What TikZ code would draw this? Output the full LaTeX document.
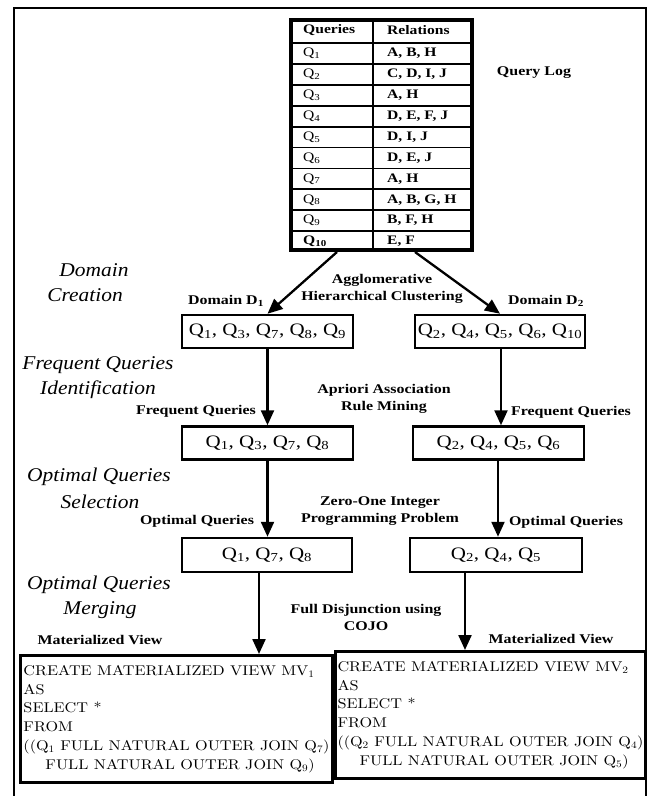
\documentclass[tikz,border=0pt]{standalone}
\usepackage{fontspec}
\setmainfont{Liberation Serif}[FakeStretch=1.2]
\newfontfamily\italfont{Liberation Serif}[FakeStretch=1.1]
\newfontfamily\lmfont{lmroman10-regular.otf}[FakeStretch=1.15]
\usetikzlibrary{arrows.meta,calc}
\begin{document}
\begin{tikzpicture}[x=1pt,y=-1pt,
  lab/.style={font=\fontsize{13.3}{17}\selectfont\bfseries, inner sep=0pt, align=center},
  ital/.style={font=\italfont\fontsize{19.5}{22}\selectfont\itshape, inner sep=0pt},
  qbox/.style={draw, line width=2.5pt, minimum height=33pt, font=\fontsize{17.5}{20}\selectfont, inner sep=0pt},
  cell/.style={font=\fontsize{13}{15}\selectfont, inner sep=0pt, anchor=west},
  arr/.style={line width=2.3pt, -{Triangle[length=15pt,width=13pt]}},
  mv/.style={draw, line width=3pt, inner xsep=2pt, inner ysep=0pt, anchor=north west, align=left,
             minimum height=127pt, font=\lmfont\fontsize{14.1}{18.8}\selectfont}
]
\useasboundingbox (0,0) rectangle (648,796);
% outer frame
\draw[line width=2pt] (14,796) -- (14,8) -- (646,8) -- (646,796);

% query log table
\node[draw, line width=4pt, minimum width=181pt, minimum height=230pt, inner sep=0pt] (tab) at (381.5,135) {};
\draw[line width=1.8pt] (373,18) -- (373,252);
\foreach \i in {0,...,9} {
  \draw[line width=1.8pt] (289,{43+20.9*\i}) -- (474,{43+20.9*\i});
}
\node[cell, font=\fontsize{13}{15}\selectfont\bfseries] (hq) at (303,30.5) {Queries};
\node[cell, font=\fontsize{13}{15}\selectfont\bfseries] (hr) at (387,30.5) {Relations};
\foreach \n/\r [count=\i] in {1/{A, B, H},2/{C, D, I, J},3/{A, H},4/{D, E, F, J},5/{D, I, J},6/{D, E, J},7/{A, H},8/{A, B, G, H},9/{B, F, H}} {
  \node[cell] (q\i) at (303,{43+20.9*(\i-0.5)}) {Q\textsubscript{\n}};
  \node[cell, font=\fontsize{13}{15}\selectfont\bfseries] (r\i) at (387,{43+20.9*(\i-0.5)}) {\r};
}
\node[cell, font=\fontsize{13}{15}\selectfont\bfseries] (q10) at (303,241.5) {Q\textsubscript{10}};
\node[cell, font=\fontsize{13}{15}\selectfont\bfseries] (r10) at (387,241.5) {E, F};
\node[lab] (qlog) at (534,73) {Query Log};

% stage labels (italic)
\node[ital] (s1a) at (94,270) {Domain};
\node[ital] (s1b) at (85,295) {Creation};
\node[ital] (s2a) at (98,365) {Frequent Queries};
\node[ital] (s2b) at (98,390) {Identification};
\node[ital] (s3a) at (99,477) {Optimal Queries};
\node[ital] (s3b) at (100,502) {Selection};
\node[ital] (s4a) at (99,585) {Optimal Queries};
\node[ital] (s4b) at (100,610) {Merging};

% method labels
\node[lab] (m1) at (382,289) {Agglomerative\\Hierarchical Clustering};
\node[lab] (m2) at (384,399) {Apriori Association\\Rule Mining};
\node[lab] (m3) at (380,511) {Zero-One Integer\\Programming Problem};
\node[lab] (m4) at (366,617) {Full Disjunction using\\COJO};

% boxes
\node[qbox, minimum width=171pt] (b1L) at (267.5,331.5) {Q\textsubscript{1}, Q\textsubscript{3}, Q\textsubscript{7}, Q\textsubscript{8}, Q\textsubscript{9}};
\node[qbox, minimum width=170pt] (b1R) at (500,331.5) {Q\textsubscript{2}, Q\textsubscript{4}, Q\textsubscript{5}, Q\textsubscript{6}, Q\textsubscript{10}};
\node[qbox, minimum width=171pt] (b2L) at (267.5,443) {Q\textsubscript{1}, Q\textsubscript{3}, Q\textsubscript{7}, Q\textsubscript{8}};
\node[qbox, minimum width=171pt] (b2R) at (498.5,443) {Q\textsubscript{2}, Q\textsubscript{4}, Q\textsubscript{5}, Q\textsubscript{6}};
\node[qbox, minimum width=170pt, minimum height=34pt] (b3L) at (267,555) {Q\textsubscript{1}, Q\textsubscript{7}, Q\textsubscript{8}};
\node[qbox, minimum width=172pt, minimum height=34pt] (b3R) at (496,555) {Q\textsubscript{2}, Q\textsubscript{4}, Q\textsubscript{5}};

% arrow labels
\node[lab] (d1) at (226,301) {Domain D\textsubscript{1}};
\node[lab] (d2) at (546,301) {Domain D\textsubscript{2}};
\node[lab] (f1) at (196,411) {Frequent Queries};
\node[lab] (f2) at (571,412) {Frequent Queries};
\node[lab] (o1) at (197,521) {Optimal Queries};
\node[lab] (o2) at (566,522) {Optimal Queries};
\node[lab] (v1) at (100,640) {Materialized View};
\node[lab] (v2) at (551,639) {Materialized View};

% materialized view boxes
\node[mv, minimum width=312pt] (mvL) at (19,654) {CREATE MATERIALIZED VIEW MV\textsubscript{1}\\AS\\SELECT *\\FROM\\((Q\textsubscript{1} FULL NATURAL OUTER JOIN Q\textsubscript{7})\\\hspace*{22pt}FULL NATURAL OUTER JOIN Q\textsubscript{9})};
\node[mv, minimum width=309pt] (mvR) at (334,650) {CREATE MATERIALIZED VIEW MV\textsubscript{2}\\AS\\SELECT *\\FROM\\((Q\textsubscript{2} FULL NATURAL OUTER JOIN Q\textsubscript{4})\\\hspace*{22pt}FULL NATURAL OUTER JOIN Q\textsubscript{5})};

% connectors
\coordinate (tL) at (337,252);
\coordinate (tR) at (415,252);
\draw[arr] (tL) -- (b1L.north);
\draw[arr] (tR) -- (b1R.north);
\draw[arr] (b1L.south) -- (b2L.north);
\coordinate (s1R) at ($(b1R.south)+(1,0)$);
\draw[arr] (s1R) -- (s1R |- b2R.north);
\draw[arr] (b2L.south) -- (b2L.south |- b3L.north);
\coordinate (s2R) at ($(b2R.south)+(-0.5,0)$);
\draw[arr] (s2R) -- (s2R |- b3R.north);
\coordinate (s3L) at ($(b3L.south)+(-8,0)$);
\draw[arr] (s3L) -- (s3L |- mvL.north);
\coordinate (s3R) at ($(b3R.south)+(-31,0)$);
\draw[arr] (s3R) -- (s3R |- mvR.north);
\end{tikzpicture}
\end{document}
